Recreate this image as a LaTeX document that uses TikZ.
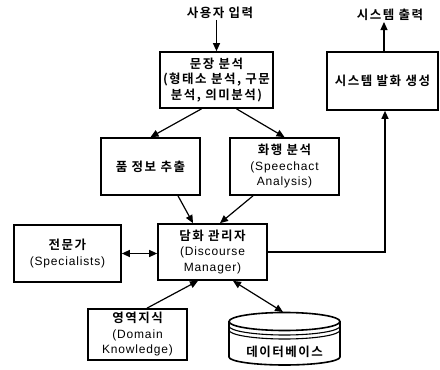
\documentclass[tikz,border=0pt]{standalone}
\usepackage{fontspec}
\setmainfont{Liberation Sans}
\newfontfamily\krfont{Noto Sans CJK KR}[BoldFont={Noto Sans CJK KR Bold}]
\usetikzlibrary{arrows.meta}
\newcommand{\kr}[1]{{\krfont\bfseries\fontsize{12.5}{15.5}\selectfont\addfontfeature{LetterSpace=12}#1}}
\newcommand{\la}[1]{{\addfontfeature{LetterSpace=7}#1}}
\begin{document}
\begin{tikzpicture}[x=1pt,y=1pt,
  box/.style={draw,line width=1.7pt,align=center,inner sep=0pt,
    font=\fontsize{12}{15.5}\selectfont},
  lbl/.style={align=center,inner sep=1pt,font=\fontsize{12}{15.5}\selectfont},
  arr/.style={line width=1.2pt,-{Triangle[length=8pt,width=7pt]}},
  arrb/.style={line width=1.2pt,{Triangle[length=8pt,width=7pt]}-{Triangle[length=8pt,width=7pt]}}]
\useasboundingbox (0,0) rectangle (440,370);

% processing boxes
\node[box,minimum width=113pt,minimum height=56pt] (parse) at (216.5,290)
  {\kr{문장 분석}\\\kr{(형태소 분석, 구문}\\\kr{분석, 의미분석)}};
\node[box,minimum width=99pt,minimum height=57pt] (pos) at (150.5,203.5)
  {\kr{품 정보 추출}};
\node[box,minimum width=109pt,minimum height=57pt] (speech) at (284.5,203.5)
  {\kr{화행 분석}\\\la{(Speechact}\\\la{Analysis)}};
\node[box,minimum width=109pt,minimum height=56pt] (dm) at (212.5,118)
  {\kr{담화 관리자}\\\la{(Discourse}\\\la{Manager)}};
\node[box,minimum width=107pt,minimum height=57pt] (spec) at (67.5,116.5)
  {\kr{전문가}\\\la{(Specialists)}};
\node[box,minimum width=111pt,minimum height=58pt] (gen) at (382.5,289)
  {\kr{시스템 발화 생성}};
\node[box,minimum width=99pt,minimum height=51pt] (domain) at (137.5,35.5)
  {\kr{영역지식}\\\la{(Domain}\\\la{Knowledge)}};

% input / output labels
\node[lbl] (in) at (220,357) {\kr{사용자 입력}};
\node[lbl] (out) at (390,355) {\kr{시스템 출력}};

% database cylinder
\begin{scope}[line width=1.6pt]
  \draw[fill=white] (229,48.5) -- (229,13)
    arc[start angle=180,end angle=360,x radius=55.5pt,y radius=8pt]
    -- (340,48.5);
  \draw (284.5,48.5) ellipse[x radius=55.5pt,y radius=9pt];
  \draw[line width=1.1pt] (229,44) arc[start angle=180,end angle=360,x radius=55.5pt,y radius=9pt];
  \draw[line width=1.1pt] (229,40) arc[start angle=180,end angle=360,x radius=55.5pt,y radius=9pt];
\end{scope}
\node[lbl] (db) at (284.5,18) {\kr{데이터베이스}};
\coordinate (dbtop) at (283,58);

% connectors
\draw[arr] (in.south -| parse.north) -- (parse.north);
\draw[arr] ([xshift=-15pt]parse.south) -- (pos.north);
\draw[arr] ([xshift=20pt]parse.south) -- (speech.north);
\draw[arr] ([xshift=27.5pt]pos.south) -- ([xshift=-19.5pt]dm.north);
\draw[arr] ([xshift=-31.5pt]speech.south) -- ([xshift=7.5pt]dm.north);
\draw[arrb] (spec.east) -- (spec.east -| dm.west);
\draw[arr] (dm.east) -| ([xshift=2.5pt]gen.south);
\draw[arr] ([xshift=1.5pt]gen.north) -- ([xshift=1.5pt]gen.north |- out.south);
\draw[arr] ([xshift=9.5pt]domain.north) -- ([xshift=-14.5pt]dm.south);
\draw[arrb] ([xshift=20.5pt]dm.south) -- (dbtop);
\end{tikzpicture}
\end{document}
